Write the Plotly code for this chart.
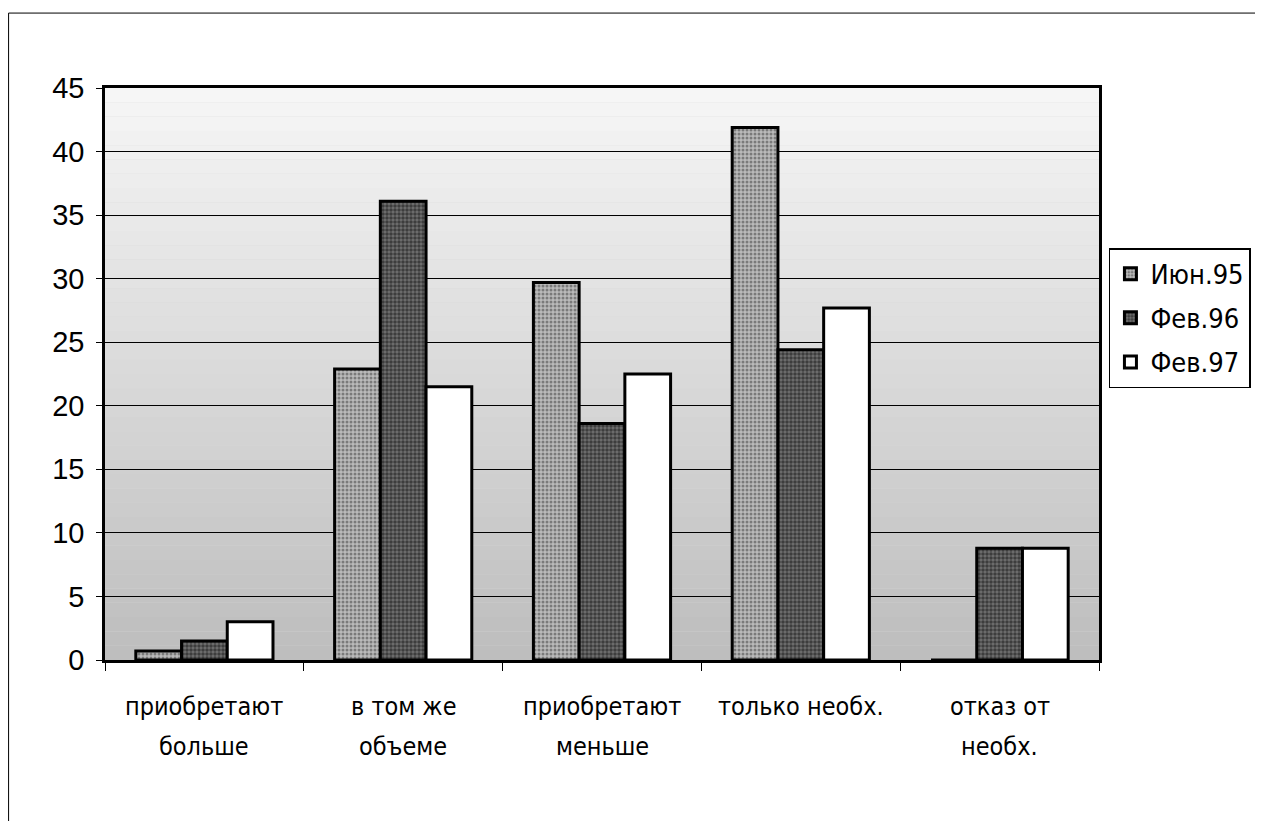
import plotly.graph_objects as go

categories = ["приобретают больше", "в том же объеме", "приобретают меньше", "только необх.", "отказ от необх."]
label_line1 = ["приобретают", "в том же", "приобретают", "только необх.", "отказ от"]
label_line2 = ["больше", "объеме", "меньше", "", "необх."]
series_names = ["Июн.95", "Фев.96", "Фев.97"]
jun95 = [0.7, 22.9, 29.7, 41.9, 0]
feb96 = [1.5, 36.1, 18.6, 24.4, 8.8]
feb97 = [3.0, 21.5, 22.5, 27.7, 8.8]
y_ticks = [0, 5, 10, 15, 20, 25, 30, 35, 40, 45]

NARROW = "DejaVu Sans Condensed, Liberation Sans Narrow, Arial Narrow, Liberation Sans, sans-serif"
REG = "Liberation Sans, Arial, sans-serif"

fig = go.Figure()
styles = [
    dict(color="#a8a8a8", pattern=dict(shape=".", fgcolor="#3a3a3a", bgcolor="#bababa", size=4, solidity=0.45)),
    dict(color="#444444", pattern=dict(shape=".", fgcolor="#0a0a0a", bgcolor="#707070", size=4, solidity=0.6)),
    dict(color="#ffffff"),
]
for i, (name, vals) in enumerate(zip(series_names, [jun95, feb96, feb97])):
    st = styles[i]
    marker = dict(color=st["color"], line=dict(color="black", width=3))
    if "pattern" in st:
        marker["pattern"] = st["pattern"]
    fig.add_trace(go.Bar(x=categories, y=vals, name=name, marker=marker, legendgroup=name))

# gradient background bands
shapes = []
n = 40
for k in range(n):
    t = k / (n - 1)
    g = int(246 - t * (246 - 190))
    shapes.append(dict(type="rect", xref="x domain", yref="y domain",
                       x0=0, x1=1, y0=1 - (k + 1) / n, y1=1 - k / n,
                       fillcolor=f"rgb({g},{g},{g})", line=dict(width=0), layer="below"))
# outer chart frame (top and left edges)
shapes.append(dict(type="line", xref="paper", yref="paper", x0=-0.097, x1=1.2, y0=1.131, y1=1.131,
                   line=dict(color="black", width=1)))
shapes.append(dict(type="line", xref="paper", yref="paper", x0=-0.097, x1=-0.097, y0=1.131, y1=-0.3,
                   line=dict(color="black", width=1)))

annotations = []
for c, l1, l2 in zip(categories, label_line1, label_line2):
    annotations.append(dict(x=c, xref="x", y=0, yref="y", yshift=-46, text=l1, showarrow=False,
                            font=dict(family=NARROW, size=25, color="black")))
    if l2:
        annotations.append(dict(x=c, xref="x", y=0, yref="y", yshift=-86, text=l2, showarrow=False,
                                font=dict(family=NARROW, size=25, color="black")))

fig.update_layout(
    width=1255, height=813,
    paper_bgcolor="white", plot_bgcolor="#d8d8d8",
    margin=dict(l=97, r=160, t=80, b=161),
    barmode="group", bargap=0.31, bargroupgap=0,
    font=dict(family=NARROW, color="black"),
    shapes=shapes, annotations=annotations,
    legend=dict(x=1.01, y=0.72, xanchor="left", yanchor="top",
                bgcolor="white", bordercolor="black", borderwidth=1.5,
                font=dict(family=NARROW, size=27, color="black"),
                tracegroupgap=6, itemwidth=30),
    showlegend=True,
)
fig.update_xaxes(type="category", showticklabels=False, ticks="outside", tickson="boundaries",
                 ticklen=8, tickcolor="black", showline=True, linecolor="black", linewidth=2.5,
                 mirror=True, showgrid=False)
fig.update_yaxes(range=[0, 45], tickvals=y_ticks, ticks="outside", ticklen=6, tickcolor="black",
                 showline=True, linecolor="black", linewidth=2.5, mirror=True,
                 showgrid=True, gridcolor="black", gridwidth=1.2, zeroline=False,
                 tickfont=dict(family=REG, size=29, color="black"),
                 ticklabelstandoff=6)

fig.write_html("out.html")
